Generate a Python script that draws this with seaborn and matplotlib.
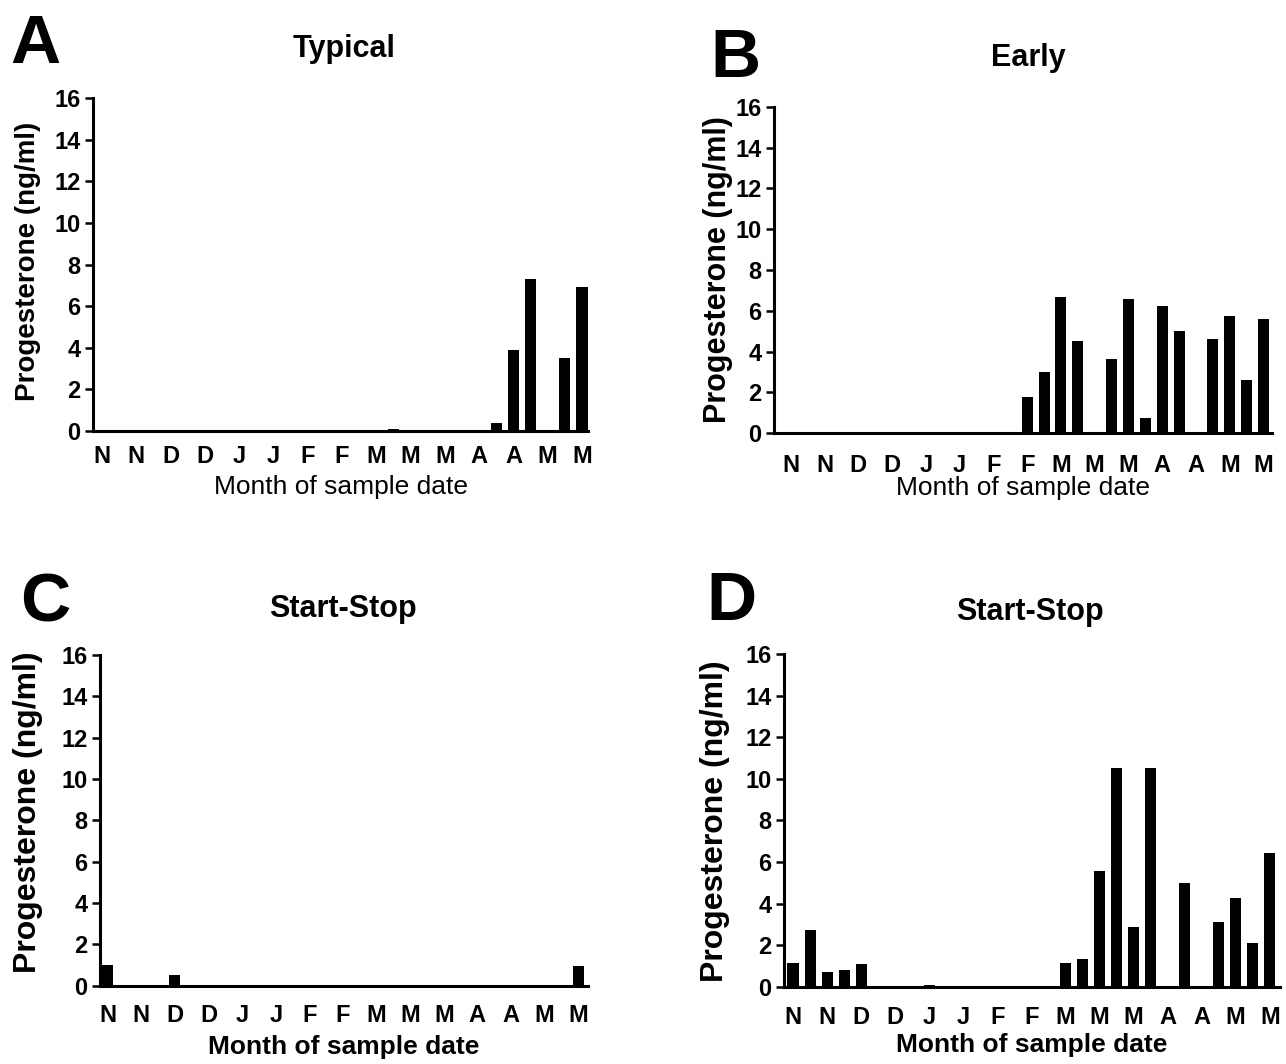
import matplotlib
matplotlib.use("Agg")
import matplotlib.pyplot as plt
import seaborn as sns
import pandas as pd
import numpy as np

sns.set_theme(style="ticks")
plt.rcParams['font.family'] = ['Liberation Sans', 'DejaVu Sans']
plt.rcParams['text.color'] = 'black'
plt.rcParams['axes.labelcolor'] = 'black'
plt.rcParams['xtick.color'] = 'black'
plt.rcParams['ytick.color'] = 'black'

# ---- data ----
month_labels = ["N", "N", "D", "D", "J", "J", "F", "F", "M", "M", "M", "A", "A", "M", "M"]
n_slots = 29  # two sample slots per month label

a_slots = [17, 23, 24, 25, 27, 28]
a_values = [0.1, 0.4, 3.9, 7.3, 3.5, 6.9]

b_slots = [14, 15, 16, 17, 18, 19, 20, 21, 22, 23, 25, 26, 27, 28]
b_values = [1.8, 3.02, 6.69, 4.52, 0.08, 3.62, 6.56, 0.73, 6.25, 5.01, 4.62, 5.76, 2.61, 5.58]

c_slots = [0, 4, 10, 28]
c_values = [1.0, 0.5, 0.05, 0.95]

d_slots = [0, 1, 2, 3, 4, 8, 16, 17, 18, 19, 20, 21, 23, 25, 26, 27, 28]
d_values = [1.15, 2.72, 0.72, 0.8, 1.1, 0.06, 1.15, 1.31, 5.56, 10.5, 2.88, 10.53, 4.97, 3.13, 4.28, 2.08, 6.41]

titles = ["Typical", "Early", "Start-Stop", "Start-Stop"]
letters = ["A", "B", "C", "D"]
ylabel = "Progesterone (ng/ml)"
xlabel = "Month of sample date"

W, H = 1286, 1064
fig = plt.figure(figsize=(W / 100, H / 100), dpi=100)

def rect(left, right, bottom, top):
    return [left / W, 1 - bottom / H, (right - left) / W, (bottom - top) / H]

panels = [
    dict(slots=a_slots, vals=a_values, rect=rect(93, 588, 431, 98), xlim=(-0.53, 28.35),
         xlab_weight="normal", xlab_y=-0.168, ylab_x=-0.131, ylab_y=0.51, ylab_size=20,
         xpad=10, title_xy=(344, 57), letter_xy=(10, 63)),
    dict(slots=b_slots, vals=b_values, rect=rect(774, 1272, 433.3, 106.7), xlim=(-1.0, 28.5),
         xlab_weight="normal", xlab_y=-0.1675, ylab_x=-0.1125, ylab_y=0.50, ylab_size=22,
         xpad=15, title_xy=(1028, 66), letter_xy=(710, 77)),
    dict(slots=c_slots, vals=c_values, rect=rect(100, 588.3, 985.7, 655), xlim=(-0.46, 28.6),
         xlab_weight="bold", xlab_y=-0.185, ylab_x=-0.147, ylab_y=0.524, ylab_size=23,
         xpad=13, title_xy=(343, 617), letter_xy=(20, 621)),
    dict(slots=d_slots, vals=d_values, rect=rect(784, 1280, 986.7, 654), xlim=(-0.53, 28.6),
         xlab_weight="bold", xlab_y=-0.175, ylab_x=-0.139, ylab_y=0.497, ylab_size=23,
         xpad=14, title_xy=(1030, 620), letter_xy=(706, 620)),
]

for i, p in enumerate(panels):
    ax = fig.add_axes(p["rect"])
    full = np.zeros(n_slots)
    full[p["slots"]] = p["vals"]
    df = pd.DataFrame({"slot": np.arange(n_slots), "value": full})
    sns.barplot(data=df, x="slot", y="value", native_scale=True, color="black",
                width=0.65, linewidth=0, saturation=1, ax=ax, errorbar=None)
    ax.set_xlim(*p["xlim"])
    ax.set_ylim(0, 16)
    ax.set_yticks(np.arange(0, 17, 2))
    ax.set_yticklabels([str(v) for v in range(0, 17, 2)], fontsize=17, fontweight="bold")
    ax.set_xticks(np.arange(0, 29, 2))
    ax.set_xticklabels(month_labels, fontsize=17, fontweight="bold")
    ax.tick_params(axis="x", length=0, pad=p["xpad"], labelcolor="black")
    ax.tick_params(axis="y", length=6, width=1.8, pad=3, colors="black", labelcolor="black")
    for s in ["top", "right"]:
        ax.spines[s].set_visible(False)
    for s in ["left", "bottom"]:
        ax.spines[s].set_linewidth(2.2)
        ax.spines[s].set_color("black")
    ax.set_xlabel(xlabel, fontsize=19, fontweight=p["xlab_weight"], va="center", color="black")
    ax.xaxis.set_label_coords(0.5, p["xlab_y"])
    ax.set_ylabel(ylabel, fontsize=p["ylab_size"], fontweight="bold", va="center", color="black")
    ax.yaxis.set_label_coords(p["ylab_x"], p["ylab_y"])
    ax.set_facecolor("white")
    tx, ty = p["title_xy"]
    fig.text(tx / W, 1 - ty / H, titles[i], fontsize=22, fontweight="bold",
             ha="center", va="baseline", color="black")
    lx, ly = p["letter_xy"]
    fig.text(lx / W, 1 - ly / H, letters[i], fontsize=50, fontweight="bold",
             ha="left", va="baseline", color="black")

fig.savefig("out.png", dpi=100, facecolor="white")
